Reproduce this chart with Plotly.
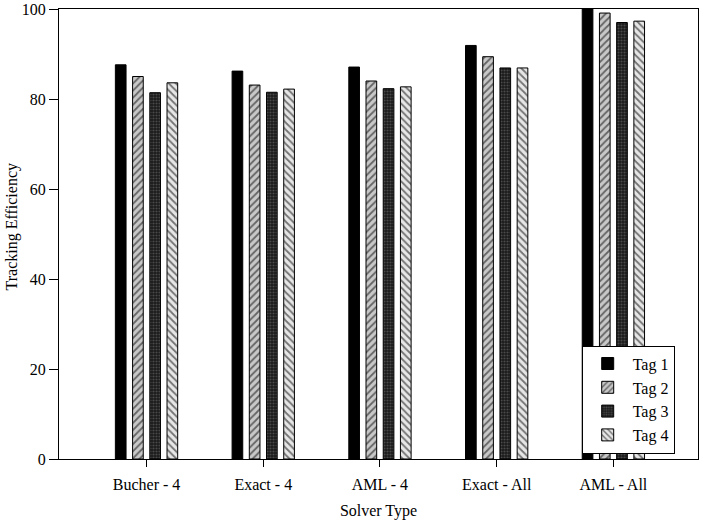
"""Tracking efficiency by solver type, four tags (Plotly)."""

import plotly.graph_objects as go

solvers = ["Bucher - 4", "Exact - 4", "AML - 4", "Exact - All", "AML - All"]
tag_names = ["Tag 1", "Tag 2", "Tag 3", "Tag 4"]
tag1 = [87.6, 86.2, 87.1, 91.9, 100.0]
tag2 = [85.0, 83.1, 84.0, 89.4, 99.1]
tag3 = [81.4, 81.5, 82.3, 86.9, 97.0]
tag4 = [83.6, 82.2, 82.7, 86.9, 97.3]

FONT = "Liberation Serif, Times New Roman, serif"

patterns = [
    dict(shape=""),
    dict(shape="/", fgcolor="black", bgcolor="#c8c8c8", size=5, solidity=0.35),
    dict(shape=".", fgcolor="#7a7a7a", bgcolor="#1a1a1a", size=3, solidity=0.4),
    dict(shape="\\", fgcolor="black", bgcolor="#e6e6e6", size=5, solidity=0.35),
]

fig = go.Figure()
for name, vals, pat in zip(tag_names, [tag1, tag2, tag3, tag4], patterns):
    fig.add_trace(go.Bar(
        x=solvers,
        y=vals,
        name=name,
        marker=dict(
            color="black" if pat["shape"] == "" else pat["bgcolor"],
            pattern=pat,
            line=dict(color="black", width=1),
        ),
    ))

# y title as an annotation so it sits where the original has it
fig.add_annotation(
    text="Tracking Efficiency",
    xref="paper", yref="paper",
    x=-0.074, y=0.516, xanchor="center", yanchor="middle",
    textangle=-90, showarrow=False,
    font=dict(family=FONT, size=16),
)

fig.update_layout(
    width=705,
    height=523,
    margin=dict(l=59, r=7, t=9, b=64),
    paper_bgcolor="white",
    plot_bgcolor="white",
    font=dict(family=FONT, size=16, color="black"),
    barmode="group",
    bargap=0.41,
    bargroupgap=0.38,
    showlegend=True,
    legend=dict(
        x=0.818, y=0.252, xanchor="left", yanchor="top",
        bordercolor="black", borderwidth=1, bgcolor="white",
        font=dict(family=FONT, size=16),
        itemwidth=40,
        entrywidth=76,
        tracegroupgap=0,
    ),
    xaxis=dict(
        range=[-0.75, 4.725],
        automargin=False,
        showline=True, linecolor="black", linewidth=1, mirror=True,
        ticks="outside", ticklen=7, tickcolor="black",
        tickfont=dict(family=FONT, size=16),
        ticklabelstandoff=4,
        showgrid=False,
        title=dict(text="Solver Type", font=dict(size=16), standoff=12),
    ),
    yaxis=dict(
        range=[0, 100],
        automargin=False,
        tickvals=[0, 20, 40, 60, 80, 100],
        showline=True, linecolor="black", linewidth=1, mirror=True,
        ticks="outside", ticklen=9, tickcolor="black",
        tickfont=dict(family=FONT, size=16),
        showgrid=False, zeroline=False,
    ),
)

# page body has a default 8px margin; drop it so the figure sits at 0,0
fig.write_html(
    "out.html",
    config={"displayModeBar": False},
    post_script="document.body.style.margin='0';",
)
